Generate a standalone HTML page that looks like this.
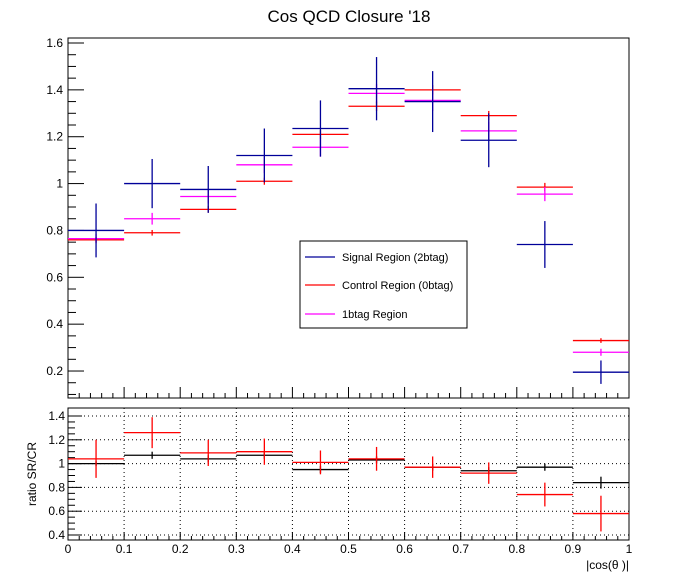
<!DOCTYPE html>
<html><head><meta charset="utf-8"><style>
html,body{margin:0;padding:0;background:#fff;}
svg{display:block;font-family:"Liberation Sans",Arial,sans-serif;}
</style></head><body>
<svg id="c" width="698" height="573" viewBox="0 0 698 573">
<rect width="698" height="573" fill="#fff"/>
<text x="349" y="22" text-anchor="middle" font-size="17">Cos QCD Closure '18</text>
</svg>
<script>
const edges=[0,0.1,0.2,0.3,0.4,0.5,0.6,0.7,0.8,0.9,1.0];
const sigVals=[0.80,1.00,0.975,1.12,1.235,1.405,1.35,1.185,0.74,0.195];
const sigErrs=[0.115,0.105,0.10,0.115,0.12,0.135,0.13,0.115,0.10,0.05];
const ctrlVals=[0.76,0.79,0.89,1.01,1.21,1.33,1.40,1.29,0.985,0.33];
const ctrlErrs=[0.012,0.012,0.014,0.015,0.018,0.02,0.02,0.02,0.018,0.01];
const oneVals=[0.765,0.85,0.945,1.08,1.155,1.385,1.355,1.225,0.955,0.28];
const oneErrs=[0.02,0.025,0.03,0.035,0.04,0.04,0.045,0.04,0.03,0.015];
const ratioSRVals=[1.04,1.26,1.09,1.10,1.01,1.04,0.97,0.92,0.74,0.58];
const ratioSRErrs=[0.16,0.13,0.11,0.11,0.10,0.10,0.09,0.09,0.10,0.15];
const ratio1bVals=[1.00,1.07,1.04,1.07,0.95,1.03,0.97,0.94,0.97,0.84];
const ratio1bErrs=[0.02,0.03,0.03,0.03,0.03,0.03,0.03,0.03,0.03,0.05];
const topTicks=[0.2,0.4,0.6,0.8,1,1.2,1.4,1.6];
const botTicks=[0.4,0.6,0.8,1,1.2,1.4];
const xTicks=[0,0.1,0.2,0.3,0.4,0.5,0.6,0.7,0.8,0.9,1];

const NS="http://www.w3.org/2000/svg";
const svg=document.getElementById('c');
const X0=68,X1=629;
const xs=v=>X0+v*(X1-X0);
const T={top:38,bot:398,ymin:0.085,ymax:1.621};
const yt=v=>43+(1.6-v)*234.3;
const yb=v=>535-(v-0.4)*119;
const B={top:408,bot:540};
function el(tag,attrs,parent){const e=document.createElementNS(NS,tag);for(const k in attrs)e.setAttribute(k,attrs[k]);(parent||svg).appendChild(e);return e;}

// frames
let f1=el('rect',{x:X0,y:T.top,width:X1-X0,height:T.bot-T.top,fill:'none',stroke:'#000','stroke-width':1});


let f2=el('rect',{x:X0,y:B.top,width:X1-X0,height:B.bot-B.top,fill:'none',stroke:'#000','stroke-width':1});



// top y ticks
for(let v=0.1;v<=1.62;v+=0.05){const y=yt(v);if(y<T.top||y>T.bot)continue;const maj=Math.abs((v*10)%2)<0.01||Math.abs((v*10)%2-2)<0.01;
el('line',{x1:X0,x2:X0+(maj?16:8),y1:y,y2:y,stroke:'#000'});}
topTicks.forEach(v=>{const t=el('text',{x:X0-5,y:yt(v)+4,'text-anchor':'end','font-size':12});t.textContent=String(v);

});
// top x ticks
for(let i=0;i<=50;i++){const x=xs(i/50);const maj=i%5===0;el('line',{x1:x,x2:x,y1:T.bot,y2:T.bot-(maj?11:5),stroke:'#000'});}
// bottom ticks
for(let v=0.4;v<=1.45;v+=0.05){const y=yb(v);if(y<B.top||y>B.bot)continue;const maj=Math.round(v*100)%20===0;
el('line',{x1:X0,x2:X0+(maj?14:7),y1:y,y2:y,stroke:'#000'});}
for(let i=0;i<=50;i++){const x=xs(i/50);const maj=i%5===0;el('line',{x1:x,x2:x,y1:B.bot,y2:B.bot-(maj?8:4),stroke:'#000'});}
// grid
botTicks.forEach(v=>{el('line',{x1:X0,x2:X1,y1:yb(v),y2:yb(v),stroke:'#000','stroke-dasharray':'1,3'});
const t=el('text',{x:X0-3,y:yb(v)+4,'text-anchor':'end','font-size':12});t.textContent=String(v);

});
xTicks.forEach(v=>{if(v>0&&v<1)el('line',{x1:xs(v),x2:xs(v),y1:B.top,y2:B.bot,stroke:'#000','stroke-dasharray':'1,3'});
const t=el('text',{x:xs(v),y:553,'text-anchor':'middle','font-size':12});t.textContent=String(v);

});

function series(vals,errs,ys,color,name,lo,hi){
 const g=el('g',{});
 
 
 vals.forEach((v,i)=>{const xa=xs(edges[i]),xb=xs(edges[i+1]),xm=(xa+xb)/2;
  const h=el('line',{x1:xa,x2:xb,y1:ys(v),y2:ys(v),stroke:color,'stroke-width':1.3},g);
  
  
  let y1=Math.max(lo,ys(v+errs[i])),y2=Math.min(hi,ys(v-errs[i]));
  el('line',{x1:xm,x2:xm,y1:y1,y2:y2,stroke:color,'stroke-width':1.3},g);});
}
series(ctrlVals,ctrlErrs,yt,'#ff0000','control-region-series',T.top,T.bot);
series(oneVals,oneErrs,yt,'#ff00ff','1btag-series',T.top,T.bot);
series(sigVals,sigErrs,yt,'#000099','signal-region-series',T.top,T.bot);
series(ratio1bVals,ratio1bErrs,yb,'#000000','ratio-1btag-series',B.top,B.bot);
series(ratioSRVals,ratioSRErrs,yb,'#ff0000','ratio-sr-cr-series',B.top,B.bot);

// legend
const lg=el('g',{});


el('rect',{x:300,y:241,width:167,height:87,fill:'#fff',stroke:'#000'},lg);
[['Signal Region (2btag)','#000099',257],['Control Region (0btag)','#ff0000',285],['1btag Region','#ff00ff',314]].forEach(([lab,c,y])=>{
 el('line',{x1:305,x2:335,y1:y,y2:y,stroke:c,'stroke-width':1.3},lg);
 const t=el('text',{x:342,y:y+4,'font-size':11},lg);t.textContent=lab;
 
 });

const yl=el('text',{x:0,y:0,'font-size':12,'text-anchor':'middle',transform:'translate(36,474) rotate(-90)'});
yl.textContent='ratio SR/CR';


const xl=el('text',{x:629,y:569,'font-size':12,'text-anchor':'end'});
xl.textContent='|cos(θ )|';


</script>
</body></html>
